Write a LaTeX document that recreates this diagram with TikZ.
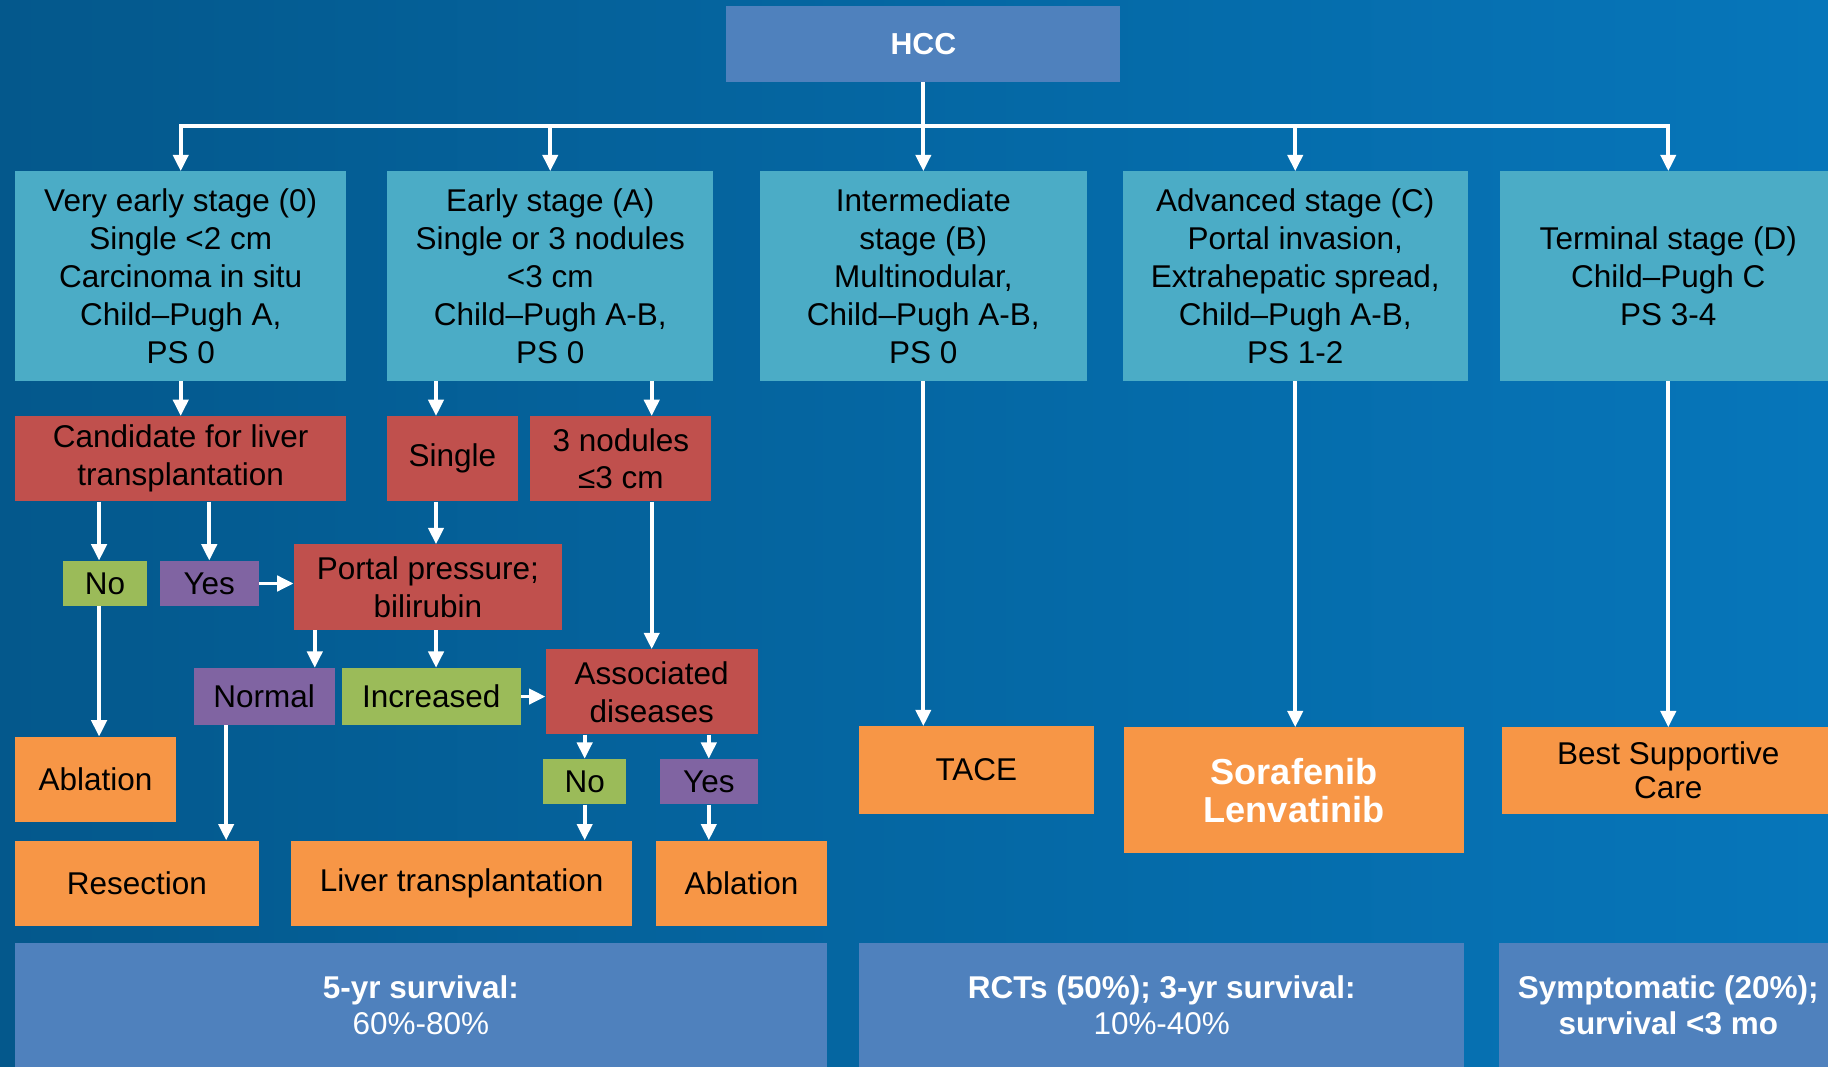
\documentclass[tikz,border=0pt]{standalone}
\usepackage{fontspec}
\setmainfont{Liberation Sans}
\usetikzlibrary{arrows.meta}
\definecolor{bclbgdark}{RGB}{4,88,140}
\definecolor{bclbglight}{RGB}{6,118,186}
\definecolor{bclblue}{RGB}{79,129,189}
\definecolor{bclteal}{RGB}{75,172,198}
\definecolor{bclred}{RGB}{192,80,77}
\definecolor{bclorange}{RGB}{247,150,70}
\definecolor{bclgreen}{RGB}{155,187,89}
\definecolor{bclpurple}{RGB}{128,100,162}

\begin{document}
\begin{tikzpicture}[x=1pt, y=-1pt, every node/.style={font=\fontsize{27}{32.5}\selectfont}]
  \tikzset{
    box/.style 2 args={inner sep=0pt, minimum width=#1pt, minimum height=#2pt, align=center},
    stage/.style={fill=bclteal},
    query/.style={fill=bclred},
    yesbox/.style={fill=bclpurple},
    nobox/.style={fill=bclgreen},
    treat/.style={fill=bclorange},
    surv/.style={fill=bclblue, text=white, font=\bfseries\fontsize{27}{31}\selectfont},
    wire/.style={draw=white, line width=3.2pt},
    arr/.style={wire, -{Triangle[length=14pt,width=13pt]}}
  }

  % background
  \useasboundingbox (0,0) rectangle (1568,915);
  \shade[left color=bclbgdark, right color=bclbglight] (0,0) rectangle (1568,915);

  % root and stages
  \node[box={338}{65}, fill=bclblue, text=white, font=\bfseries\fontsize{26}{31}\selectfont] (hcc) at (792,37.5) {HCC};
  \node[box={284}{180}, stage] (s0) at (155,237) {Very early stage (0)\\Single <2 cm\\Carcinoma in situ\\Child–Pugh A,\\PS 0};
  \node[box={280}{180}, stage] (sA) at (472,237) {Early stage (A)\\Single or 3 nodules\\<3 cm\\Child–Pugh A-B,\\PS 0};
  \node[box={280}{180}, stage] (sB) at (792,237) {Intermediate\\stage (B)\\Multinodular,\\Child–Pugh A-B,\\PS 0};
  \node[box={296}{180}, stage] (sC) at (1111,237) {Advanced stage (C)\\Portal invasion,\\Extrahepatic spread,\\Child–Pugh A-B,\\PS 1-2};
  \node[box={288}{180}, stage] (sD) at (1431,237) {Terminal stage (D)\\Child–Pugh C\\PS 3-4};

  % decisions
  \node[box={284}{73}, query] (cand) at (155,393.5) {Candidate for liver\\transplantation};
  \node[box={112}{73}, query] (single) at (388,393.5) {Single};
  \node[box={155}{73}, query] (three) at (532.5,393.5) {3 nodules\\≤3 cm};
  \node[box={72}{39}, nobox] (no1) at (90,500.5) {No};
  \node[box={85}{39}, yesbox] (yes1) at (179.5,500.5) {Yes};
  \node[box={230}{73}, query] (portal) at (367,503.5) {Portal pressure;\\bilirubin};
  \node[box={121}{49}, yesbox] (normal) at (226.5,597.5) {Normal};
  \node[box={154}{49}, nobox] (incr) at (370,597.5) {Increased};
  \node[box={182}{73}, query] (assoc) at (559,593.5) {Associated\\diseases};
  \node[box={71}{39}, nobox] (no2) at (501.5,670.5) {No};
  \node[box={84}{39}, yesbox] (yes2) at (608,670.5) {Yes};

  % treatments
  \node[box={138}{73}, treat] (abl1) at (82,668.5) {Ablation};
  \node[box={209}{73}, treat] (resec) at (117.5,757.5) {Resection};
  \node[box={292}{73}, treat] (livtx) at (396,757.5) {Liver transplantation};
  \node[box={146}{73}, treat] (abl2) at (636,757.5) {Ablation};
  \node[box={201}{75}, treat] (tace) at (837.5,660.5) {TACE};
  \node[box={292}{108}, treat, text=white, font=\bfseries\fontsize{31}{33}\selectfont] (sora) at (1110,678) {Sorafenib\\Lenvatinib};
  \node[box={286}{74}, treat, font=\fontsize{27}{29}\selectfont] (bsc) at (1431,661) {Best Supportive\\Care};

  % outcomes
  \node[box={696}{106}, surv] (out1) at (361,862) {5-yr survival:\\\mdseries 60\%-80\%};
  \node[box={519}{106}, surv] (out2) at (996.5,862) {RCTs (50\%); 3-yr survival:\\\mdseries 10\%-40\%};
  \node[box={290}{106}, surv] (out3) at (1431,862) {Symptomatic (20\%);\\survival <3 mo};

  % guide columns
  \coordinate (bus) at (792,108);
  \coordinate (colA) at (85,0);
  \coordinate (colB) at (374,0);
  \coordinate (colC) at (270,0);
  \coordinate (colD) at (194,0);

  % HCC to stages
  \draw[wire] (hcc.south) -- (bus);
  \draw[wire, line cap=rect] (s0.north |- bus) -- (sD.north |- bus);
  \foreach \n in {s0,sA,sB,sC,sD}
    \draw[arr] (\n.north |- bus) -- (\n.north);

  % early branches
  \draw[arr] (s0.south) -- (cand.north);
  \draw[arr] (colB |- sA.south) -- (colB |- single.north);
  \draw[arr] (assoc.north |- sA.south) -- (assoc.north |- three.north);
  \draw[arr] (colA |- cand.south) -- (colA |- no1.north);
  \draw[arr] (yes1.north |- cand.south) -- (yes1.north);
  \draw[arr] (colA |- no1.south) -- (colA |- abl1.north);
  \draw[arr] (yes1.east) -- (yes1.east -| portal.west);
  \draw[arr] (colB |- single.south) -- (colB |- portal.north);
  \draw[arr] (colC |- portal.south) -- (colC |- normal.north);
  \draw[arr] (colB |- portal.south) -- (colB |- incr.north);
  \draw[arr] (colD |- normal.south) -- (colD |- resec.north);
  \draw[arr] (incr.east) -- (incr.east -| assoc.west);
  \draw[arr] (assoc.north |- three.south) -- (assoc.north);
  \draw[arr] (no2.north |- assoc.south) -- (no2.north);
  \draw[arr] (yes2.north |- assoc.south) -- (yes2.north);
  \draw[arr] (no2.south) -- (no2.south |- livtx.north);
  \draw[arr] (yes2.south) -- (yes2.south |- abl2.north);

  % later stages
  \draw[arr] (sB.south) -- (sB.south |- tace.north);
  \draw[arr] (sC.south) -- (sC.south |- sora.north);
  \draw[arr] (sD.south) -- (sD.south |- bsc.north);
\end{tikzpicture}
\end{document}
